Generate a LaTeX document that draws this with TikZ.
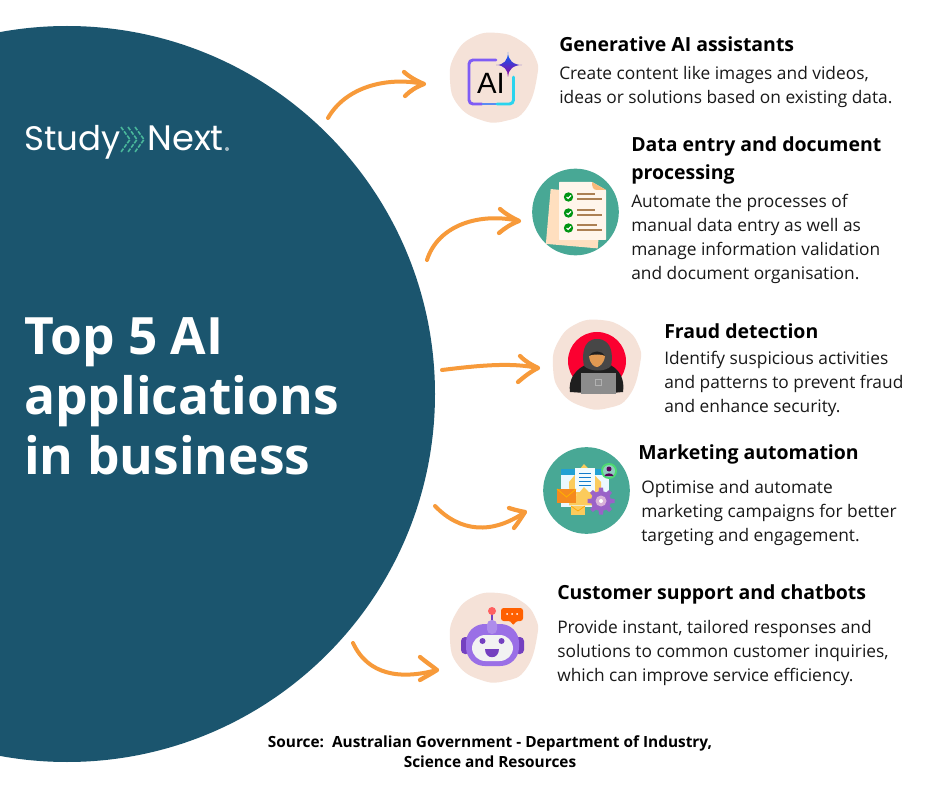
\documentclass[tikz,border=0pt]{standalone}
\usepackage{fontspec}
\setmainfont{Open Sans}
\newfontfamily\logofont{Poppins}
\newfontfamily\aifont{Liberation Sans}
\usetikzlibrary{calc}
\definecolor{navy}{HTML}{1B556E}
\definecolor{peach}{HTML}{F5E2D8}
\definecolor{teal1}{HTML}{48A895}
\definecolor{orng}{HTML}{F79A3A}
\definecolor{mint}{HTML}{49B79A}
\definecolor{robotp}{HTML}{9A6FE6}
\definecolor{robotd}{HTML}{7440C0}
\definecolor{aiv}{HTML}{7F5CF5}
\definecolor{aic}{HTML}{2AD4EE}
\definecolor{aib}{HTML}{5A8CF2}
\definecolor{alarm}{HTML}{FB0030}
\definecolor{gearp}{HTML}{9A62C8}
\definecolor{envy}{HTML}{FBCB5C}
\definecolor{envo}{HTML}{F58A1F}
\tikzset{
  x=0.75pt,y=-0.75pt,
  head/.style={inner sep=0,anchor=north west,align=left,font=\fontsize{14.6}{21}\selectfont\bfseries,text=black},
  body/.style={inner sep=0,anchor=north west,align=left,font=\fontsize{13}{18}\selectfont,text=black!90},
  title/.style={inner sep=0,anchor=north west,align=left,font=\fontsize{38.6}{45}\selectfont\bfseries,text=white},
  source/.style={inner sep=0,align=center,font=\fontsize{11.55}{15}\selectfont\bfseries,text=black},
  curve/.style={draw=orng,line width=3pt,line cap=round,line join=round},
  tiphead/.style={draw=orng,line width=3.2pt,line cap=round,line join=round},
}
\newcommand{\blobshape}[3]{%
  \fill[#3] plot[smooth cycle,tension=.8] coordinates {
   ($(#1,#2)+(44,0)$) ($(#1,#2)+(42,-20)$) ($(#1,#2)+(28,-36)$) ($(#1,#2)+(5,-44)$)
   ($(#1,#2)+(-20,-40)$) ($(#1,#2)+(-38,-22)$) ($(#1,#2)+(-43,3)$) ($(#1,#2)+(-35,28)$)
   ($(#1,#2)+(-12,43)$) ($(#1,#2)+(12,44)$) ($(#1,#2)+(33,32)$)};}
\begin{document}
\begin{tikzpicture}
\useasboundingbox (0,0) rectangle (940,788);
\fill[white] (0,0) rectangle (940,788);
\begin{scope}
\clip (0,0) rectangle (940,788);
\node[circle,fill=navy,minimum size=552pt,inner sep=0] (main) at (67,394) {};
\end{scope}

% logo
\node[inner sep=0,anchor=base west,font=\logofont\fontsize{25.5}{25.5}\selectfont,text=white] (logoa) at (24,151) {Study};
\node[inner sep=0,anchor=base west,font=\logofont\fontsize{26.5}{26.5}\selectfont,text=white] (logob) at (147,151) {Next};
\fill[white!60!navy] (227,149) circle (2);
\foreach \dx in {0,7,14}{
  \draw[mint,line width=1.2pt,dash pattern=on 3pt off 1pt] (121+\dx,127) -- (130+\dx,139.5) -- (121+\dx,152);
}

% title
\node[title] (ttl) at (24,317) {Top 5 AI\\applications\\in business};

% icon 1
\blobshape{493}{77}{peach}
\draw[color=aiv,line width=2.2pt,line cap=round,rounded corners=3pt] (496,60) -- (469,60) -- (469,104) -- (482,104);
\draw[color=aib,line width=2.2pt] (482,104) -- (497,104);
\draw[color=aic,line width=2.2pt,line cap=round,rounded corners=3pt] (497,104) -- (513.5,104) -- (513.5,77);
\node[inner sep=0,font=\aifont\fontsize{22}{22}\selectfont] (aitxt) at (491,83) {AI};
\shade[left color=blue!60!cyan,right color=violet!80!magenta,shading angle=0]
  (496,65) .. controls (504,65) and (508,60) .. (508,52) .. controls (508,60) and (513,65) .. (522,65)
  .. controls (513,65) and (508,70) .. (508,77) .. controls (508,70) and (504,65) .. (496,65) -- cycle;

% icon 2
\node[circle,fill=teal1,minimum size=65pt,inner sep=0] (ic2) at (575.5,212) {};
\fill[rotate around={-5:(560,220)},fill=orange!25!white] (548,190) -- (600,190) -- (600,245) -- (548,245) -- cycle;
\fill[fill=orange!8!white,rounded corners=.5pt] (559,182) -- (592,182) -- (606,190) -- (606,240) -- (559,240) -- cycle;
\fill[fill=orange!50!white!90!brown] (592,182) -- (606,190) -- (597,190) .. controls (593,190) and (592,187) .. (592,182) -- cycle;
\foreach \y/\w in {197/595,213/595,228/597}{
  \fill[green!60!black!85!teal] (568.5,\y) circle (4.7);
  \draw[white,line width=.8pt] (566.5,\y) -- (568,\y+1.5) -- (571,\y-1.5);
  \draw[brown!70!gray,line width=1pt] (577,\y-3) -- (\w,\y-3);
  \draw[brown!70!gray,line width=1pt] (577,\y+2) -- (602,\y+2);
}

% icon 3
\blobshape{596}{364}{peach}
\begin{scope}
\clip (560,320) rectangle (640,381);
\fill[alarm] (597,361) circle (29);
\end{scope}
\fill[black!88] (570,392) .. controls (568,380) and (575,368) .. (590,363) -- (606,363) .. controls (620,368) and (625,380) .. (623,392) -- (600,394) -- cycle;
\fill[black!72] (597,339) .. controls (613,339) and (613,357) .. (611,366) .. controls (606,372) and (590,372) .. (584,366) .. controls (582,357) and (582,339) .. (597,339) -- cycle;
\fill[black!88] (589,356) .. controls (592,350) and (602,350) .. (605,356) -- cycle;
\fill[orange!40!brown!80!white] (589,356) .. controls (592,354) and (602,354) .. (605,356) .. controls (604,364) and (599,367) .. (597,367) .. controls (594,367) and (590,364) .. (589,356) -- cycle;
\fill[black!45] (581,373) rectangle (616,394);
\draw[black!30,line width=.4pt] (595,379) rectangle (601,385);

% icon 4
\node[circle,fill=teal1,minimum size=65pt,inner sep=0] (ic4) at (586.5,490.5) {};
\fill[cyan!8!white] (561,469) rectangle (609,507);
\fill[cyan!70!teal] (561,469) rectangle (609,475);
\fill[envy] (569,482) -- (584,464) -- (601,482) -- (601,505) -- (569,505) -- cycle;
\fill[cyan!5!white] (575,468) rectangle (595,492);
\foreach \y in {473,477,481,485}{\draw[cyan!60!blue,line width=.7pt] (579,\y) -- (591,\y);}
\fill[envy!85!white] (569,488) -- (584,500) -- (601,488) -- (601,505) -- (569,505) -- cycle;
\fill[envy] (569,505) -- (584,487) -- (601,505) -- cycle;
\fill[envo] (557,489) rectangle (576,503);
\draw[orange!60!yellow,line width=.6pt] (557,489) -- (566.5,497) -- (576,489);
\fill[envy] (571,506) rectangle (585,515);
\draw[orange!70!yellow,line width=.5pt] (571,506) -- (578,511) -- (585,506);
\foreach \a in {0,45,...,315}{\fill[gearp] ($(601,501)+(\a:9)+(\a+90:2.5)$) -- ($(601,501)+(\a:13.5)+(\a+90:2)$) -- ($(601,501)+(\a:13.5)+(\a-90:2)$) -- ($(601,501)+(\a:9)+(\a-90:2.5)$) -- cycle;}
\fill[gearp] (601,501) circle (10);
\fill[violet!30!white] (601,501) circle (5.5);
\fill[white] (601,501) circle (2);
\fill[green!60!teal!70!white] (609,471) circle (8);
\fill[teal1!60!white] (609,471) circle (6);
\fill[violet!70!black] (609,469) circle (2.5);
\fill[violet!70!black] (604.5,476) .. controls (605,472.5) and (613,472.5) .. (613.5,476) -- cycle;

% icon 5
\blobshape{493}{637}{peach}
\fill[robotd,rounded corners=3pt] (461,637) rectangle (470,654);
\fill[robotd,rounded corners=3pt] (515,637) rectangle (524,654);
\fill[robotp,rounded corners=14pt] (466,624) rectangle (519,666);
\fill[black!5,rounded corners=10pt] (472,635) rectangle (513,661);
\draw[robotd,line width=.8pt] (492,611) -- (492,622);
\fill[robotp!80!white,rounded corners=3.5pt] (487,620) rectangle (497,634);
\fill[pink!50!red] (492,611) circle (4);
\fill[orange!75!red,rounded corners=2pt] (501,608) -- (523,608) -- (523,621) -- (516,621) -- (513,626) -- (511,621) -- (501,621) -- cycle;
\foreach \x in {507,512,517}{\fill[white] (\x,614) circle (1);}
\fill[robotd] (482.5,641) circle (3);
\fill[robotd] (501.5,641) circle (3);
\fill[robotd] (485,649) -- (499,649) .. controls (499,660) and (485,660) .. (485,649) -- cycle;

% arrows
\coordinate (a1s) at (328,118); \coordinate (a1e) at (424,84);
\draw[curve] (a1s) .. controls (345,88) and (385,76) .. (a1e);
\draw[tiphead] (404,72) .. controls (411,78) and (417,81) .. (a1e) .. controls (416,87) and (410,91) .. (405,96);
\coordinate (a2s) at (427,260); \coordinate (a2e) at (519,221);
\draw[curve] (a2s) .. controls (438,225) and (480,212) .. (a2e);
\draw[tiphead] (500,209) .. controls (507,215) and (513,218) .. (a2e) .. controls (511,224) and (505,228) .. (499,233);
\coordinate (a3s) at (442,370); \coordinate (a3e) at (538,368);
\draw[curve] (a3s) .. controls (475,366) and (510,362) .. (a3e);
\draw[tiphead] (520,356) .. controls (526,362) and (532,365) .. (a3e) .. controls (530,372) and (524,377) .. (518,382);
\coordinate (a4s) at (435,506); \coordinate (a4e) at (525,512);
\draw[curve] (a4s) .. controls (460,532) and (492,535) .. (a4e);
\draw[tiphead] (509,508) .. controls (515,510) and (520,511) .. (a4e) .. controls (521,518) and (518,523) .. (514,528);
\coordinate (a5s) at (353,643); \coordinate (a5e) at (437,670);
\draw[curve] (a5s) .. controls (368,675) and (400,680) .. (a5e);
\draw[tiphead] (420,657) .. controls (426,662) and (432,666) .. (a5e) .. controls (431,674) and (425,677) .. (420,680);

% texts
\node[head] (h1) at (559,36) {Generative AI assistants};
\node[body] (b1) at (559,66) {Create content like images and videos,\\ideas or solutions based on existing data.};
\node[head] (h2) at (631,136) {Data entry and document\\processing};
\node[body] (b2) at (631,194) {Automate the processes of\\manual data entry as well as\\manage information validation\\and document organisation.};
\node[head] (h3) at (664,323) {Fraud detection};
\node[body] (b3) at (664,351) {Identify suspicious activities\\and patterns to prevent fraud\\and enhance security.};
\node[head] (h4) at (638,444) {Marketing automation};
\node[body] (b4) at (641,480) {Optimise and automate\\marketing campaigns for better\\targeting and engagement.};
\node[head] (h5) at (557,584) {Customer support and chatbots};
\node[body] (b5) at (557,620) {Provide instant, tailored responses and\\solutions to common customer inquiries,\\which can improve service efficiency.};
\node[source] (src) at (490,752) {Source:\ \ Australian Government - Department of Industry,\\Science and Resources};
\end{tikzpicture}
\end{document}
